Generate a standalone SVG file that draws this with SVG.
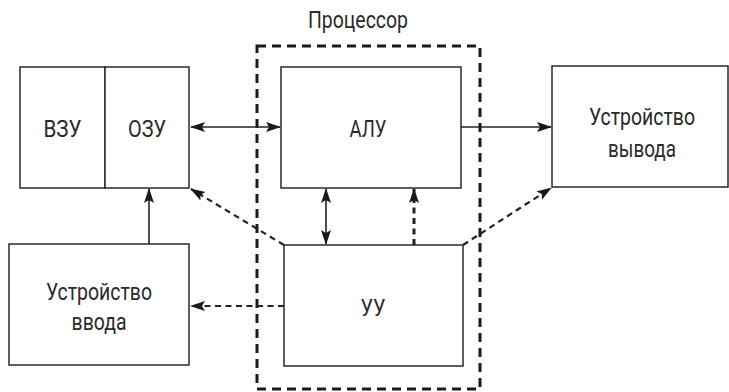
<svg xmlns="http://www.w3.org/2000/svg" width="729" height="392" viewBox="0 0 729 392">
<style>
.box{fill:#fff;stroke:#2a2a2a;stroke-width:1.5}
.t{font-family:Roboto,"Liberation Sans",sans-serif;font-size:24px;fill:#2a2a2a;text-anchor:middle}
.c{fill:none;stroke:#222;stroke-width:1.6}
.d{fill:none;stroke:#222;stroke-width:2.2;stroke-dasharray:6 4.5}
.proc{fill:none;stroke:#1a1a1a;stroke-width:3;stroke-dasharray:9 6}
</style>
<defs>
<marker id="ah" markerUnits="userSpaceOnUse" markerWidth="15" markerHeight="11" refX="14" refY="5" orient="auto-start-reverse" viewBox="0 0 15 10">
<path d="M0,0 L15,5 L0,10 L3,5 z" fill="#1a1a1a"/>
</marker>
</defs>
<g id="processor">
<rect class="proc" x="257" y="46" width="223" height="343"/>
<text class="t" x="358" y="28" textLength="100" lengthAdjust="spacingAndGlyphs">Процессор</text>
</g>
<g id="vzu">
<rect class="box" x="20" y="67" width="85" height="121"/>
<text class="t" x="62.5" y="137" textLength="38" lengthAdjust="spacingAndGlyphs">ВЗУ</text>
</g>
<g id="ozu">
<rect class="box" x="105" y="67" width="84" height="121"/>
<text class="t" x="147" y="137" textLength="38" lengthAdjust="spacingAndGlyphs">ОЗУ</text>
</g>
<g id="alu">
<rect class="box" x="281" y="67" width="180" height="121"/>
<text class="t" x="368" y="137" textLength="37" lengthAdjust="spacingAndGlyphs">АЛУ</text>
</g>
<g id="output">
<rect class="box" x="552" y="66" width="176" height="121"/>
<text class="t" x="642" y="125" textLength="106" lengthAdjust="spacingAndGlyphs">Устройство</text>
<text class="t" x="642" y="157" textLength="68" lengthAdjust="spacingAndGlyphs">вывода</text>
</g>
<g id="input">
<rect class="box" x="9" y="244" width="180" height="121"/>
<text class="t" x="99" y="300" textLength="106" lengthAdjust="spacingAndGlyphs">Устройство</text>
<text class="t" x="99" y="330" textLength="55" lengthAdjust="spacingAndGlyphs">ввода</text>
</g>
<g id="uu">
<rect class="box" x="284" y="245" width="179" height="121"/>
<text class="t" x="373" y="316" textLength="25" lengthAdjust="spacingAndGlyphs">УУ</text>
</g>
<g id="connectors">
<line class="c" x1="191" y1="127" x2="280" y2="127" marker-start="url(#ah)" marker-end="url(#ah)"/>
<line class="c" x1="461" y1="127" x2="551" y2="127" marker-end="url(#ah)"/>
<line class="c" x1="149" y1="244" x2="149" y2="189" marker-end="url(#ah)"/>
<line class="c" x1="326" y1="189" x2="326" y2="244" marker-start="url(#ah)" marker-end="url(#ah)"/>
<line class="d" x1="414" y1="245" x2="414" y2="189" marker-end="url(#ah)" style="stroke-width:3"/>
<line class="d" x1="284" y1="245" x2="191" y2="189" marker-end="url(#ah)"/>
<line class="d" x1="284" y1="306" x2="191" y2="306" marker-end="url(#ah)"/>
<line class="d" x1="463" y1="245" x2="551" y2="188" marker-end="url(#ah)"/>
</g>
</svg>
